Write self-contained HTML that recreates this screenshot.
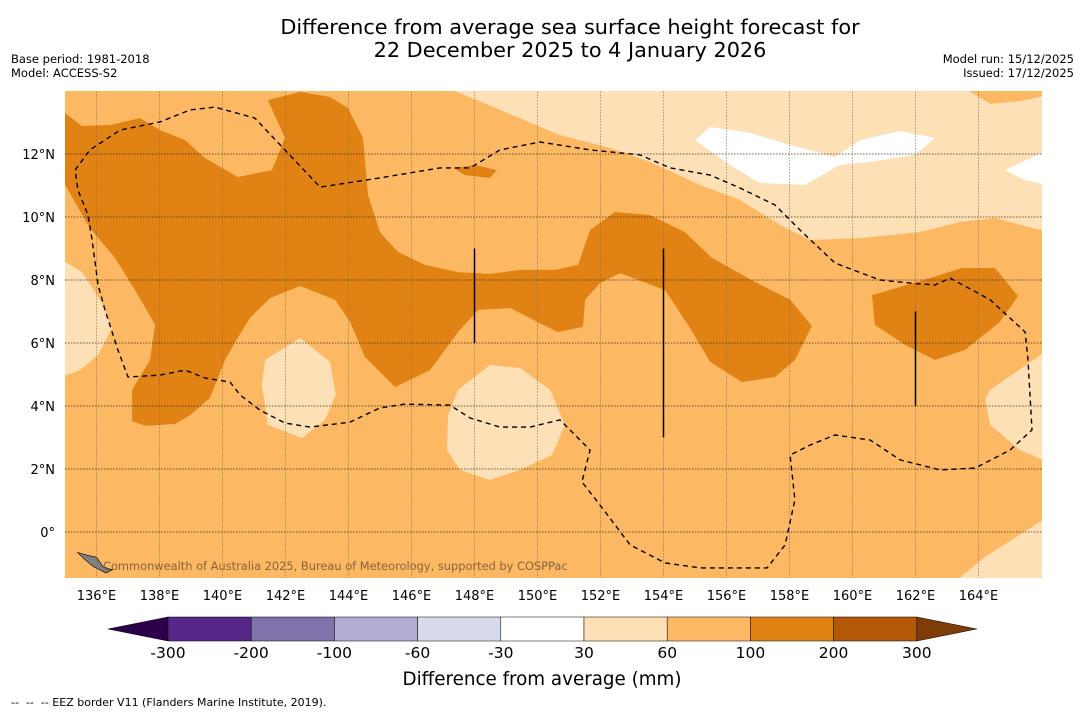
<!DOCTYPE html>
<html><head><meta charset="utf-8">
<style>
html,body{margin:0;padding:0;background:#fff;}
svg{display:block;font-family:"DejaVu Sans","Liberation Sans",sans-serif;}
</style></head>
<body>
<svg id="chart" width="1085" height="713" viewBox="0 0 1085 713" xmlns="http://www.w3.org/2000/svg">
<text x="570" y="34" font-size="20.8" text-anchor="middle" fill="#000">Difference from average sea surface height forecast for</text>
<text x="570" y="57" font-size="20.8" text-anchor="middle" fill="#000">22 December 2025 to 4 January 2026</text>
<text x="11" y="63" font-size="11.5">Base period: 1981-2018</text>
<text x="11" y="77" font-size="11.5">Model: ACCESS-S2</text>
<text x="1074" y="63" font-size="11.5" text-anchor="end">Model run: 15/12/2025</text>
<text x="1074" y="77" font-size="11.5" text-anchor="end">Issued: 17/12/2025</text>
<defs><clipPath id="mapclip"><rect x="65" y="91" width="977" height="487"/></clipPath></defs>
<g id="map" clip-path="url(#mapclip)"></g>
<g id="axes"></g>
<g id="cbar"></g>
<text x="542" y="685" font-size="18.3" text-anchor="middle">Difference from average (mm)</text>
<text x="11" y="706" font-size="11" style="white-space:pre" xml:space="preserve">--  --  -- EEZ border V11 (Flanders Marine Institute, 2019).</text>
</svg>
<script>
const NS="http://www.w3.org/2000/svg";
const lonTicks=[136,138,140,142,144,146,148,150,152,154,156,158,160,162,164];
const latTicks=[0,2,4,6,8,10,12];
const cbarBounds=[-300,-200,-100,-60,-30,30,60,100,200,300];
const cbarColors=["#542788","#8073ac","#b2abd2","#d8daeb","#ffffff","#fee0b6","#fdb863","#e08214","#b35806"];
const cbarUnder="#2d004b", cbarOver="#7f3b08";
// contour polygons in [lon,lat]
const darkMain=[[135,13.3],[135.54,12.89],[136.43,12.92],[137.38,13.14],[138.02,12.76],[138.81,12.44],[139.44,11.87],[140.49,11.27],[141.57,11.49],[141.98,12.51],[141.44,13.71],[142.46,13.97],[143.41,13.81],[143.98,13.46],[144.46,12.51],[144.62,10.7],[145,9.52],[145.57,8.89],[146.43,8.48],[147.48,8.25],[148.49,8.19],[149.44,8.32],[150.56,8.32],[151.29,8.48],[151.67,9.59],[152.46,10.16],[153.57,10.06],[154.68,9.52],[155.54,8.7],[156.9,7.94],[158.02,7.37],[158.71,6.54],[158.17,5.46],[157.54,4.92],[156.49,4.76],[155.48,5.4],[154.84,6.48],[154.05,7.68],[152.62,8.22],[151.98,7.9],[151.51,7.37],[151.44,6.51],[150.65,6.35],[150.08,6.63],[149.13,7.11],[148.11,7.05],[147.48,6.35],[146.59,5.14],[145.48,4.6],[144.52,5.56],[144.05,6.67],[143.57,7.37],[142.46,7.81],[141.51,7.43],[140.87,6.79],[140.4,6.03],[140.08,5.46],[139.6,4.25],[138.97,3.71],[138.49,3.43],[137.54,3.37],[137.13,3.52],[137.13,4.51],[137.7,5.46],[137.86,6.57],[137.32,7.52],[136.59,8.7],[135.79,9.65],[135,11.02]];
const darkBlob=[[147.32,11.56],[148.02,11.65],[148.71,11.49],[148.49,11.24],[147.7,11.33]];
const darkEast=[[160.62,7.52],[162.46,8.06],[163.48,8.38],[164.52,8.38],[165.25,7.49],[164.68,6.67],[163.57,5.78],[162.62,5.46],[161.67,5.94],[160.71,6.57]];
const lightTop=[[146.9,14.2],[148.81,13.4],[150.71,12.6],[152.3,12.19],[153.57,11.75],[155.16,11.02],[156.43,10.54],[157.7,9.75],[158.65,9.27],[160.24,9.33],[162.14,9.52],[163.41,9.84],[164.52,9.97],[166.2,9.52],[166.2,13.87],[165.32,13.68],[164.37,13.59],[163.35,14.2]];
const lightLeft=[[134.8,8.7],[135.54,8.25],[136.11,7.37],[136.49,6.48],[136.05,5.62],[135.48,5.14],[134.8,4.89]];
const lightC1=[[141.35,5.46],[142.46,6.16],[143.41,5.4],[143.6,4.35],[143.25,3.56],[142.52,2.98],[141.44,3.4],[141.25,4.67]];
const lightC2=[[147.48,4.51],[148.49,5.3],[149.44,5.21],[150.4,4.51],[150.87,3.4],[150.46,2.44],[149.44,1.97],[148.49,1.65],[147.54,1.97],[147.13,2.6],[147.16,3.71]];
const lightRight=[[164.37,4.51],[166.2,5.78],[166.2,2.22],[165.32,2.6],[164.37,3.4],[164.21,4.19]];
const lightBR=[[163.1,-1.7],[164.21,-0.79],[166.2,0.48],[166.2,-1.7]];
const whiteTop=[[155,12.44],[155.48,12.86],[156.75,12.67],[158.02,12.29],[159.44,11.9],[160.24,12.44],[161.51,12.73],[162.62,12.51],[161.98,11.97],[160.56,11.75],[159.6,11.65],[158.49,11.02],[157.06,11.08],[156.11,11.65]];
const whiteRight=[[164.84,11.49],[166.2,12.13],[166.2,11.02],[165.48,11.17]];
const eezLine=[[135.32,11.49],[135.79,12.13],[136.75,12.76],[138.02,13.02],[138.97,13.4],[139.76,13.49],[141.03,13.14],[141.83,12.29],[143.1,10.95],[145,11.24],[146.9,11.56],[147.86,11.56],[148.81,12.13],[150.08,12.38],[151.67,12.13],[153.25,11.97],[154.21,11.56],[155.48,11.33],[156.43,10.92],[157.54,10.38],[158.33,9.59],[159.44,8.54],[160.87,8.0],[161.83,7.9],[162.62,7.84],[163.1,8.06],[164.37,7.37],[165.48,6.35],[165.57,5.46],[165.7,3.24],[165,2.6],[163.89,2.03],[162.78,1.97],[161.51,2.29],[160.56,2.92],[159.44,3.08],[158.65,2.76],[158.02,2.44],[158.17,1.02],[157.86,-0.41],[157.29,-1.14],[155.16,-1.14],[154.05,-0.98],[152.94,-0.41],[151.98,0.86],[151.41,1.59],[151.67,2.6],[151.03,3.24],[150.71,3.56],[149.76,3.33],[148.81,3.33],[147.86,3.62],[147.22,4.03],[145.79,4.06],[145,3.94],[144.05,3.49],[142.78,3.33],[141.98,3.46],[141.19,3.87],[140.56,4.35],[140.24,4.76],[139.44,4.89],[138.81,5.14],[138.02,4.98],[137,4.92],[136.68,5.78],[136.27,7.05],[136.05,7.84],[135.86,9.27],[135.73,10.06],[135.41,10.86],[135.32,11.49]];
const meridianSegs=[[148,9,6],[154,9,3],[162,7,4]];
const island1=[[135.4,-0.65],[135.75,-0.75],[136.0,-0.8],[136.2,-1.1],[136.5,-1.2],[136.3,-1.3],[135.9,-1.1],[135.6,-0.85]];

const X=lon=>65+(lon-135)*31.5;
const Y=lat=>91+(14-lat)*31.5;
const map=document.getElementById('map'), axes=document.getElementById('axes'), cb=document.getElementById('cbar');
function mk(tag,attrs,parent){const e=document.createElementNS(NS,tag);for(const k in attrs)e.setAttribute(k,attrs[k]);parent.appendChild(e);return e;}
const pts=arr=>arr.map(p=>X(p[0]).toFixed(1)+','+Y(p[1]).toFixed(1)).join(' ');

let bg=mk('rect',{x:65,y:91,width:977,height:487,fill:"#fdb863"},map);


const layers=[[darkMain,"#e08214","contour-100-200-main"],[darkBlob,"#e08214","contour-100-200-small"],[darkEast,"#e08214","contour-100-200-east"],[lightTop,"#fee0b6","contour-30-60-north"],[lightLeft,"#fee0b6","contour-30-60-west"],[lightC1,"#fee0b6","contour-30-60-centre-west"],[lightC2,"#fee0b6","contour-30-60-centre"],[lightRight,"#fee0b6","contour-30-60-east"],[lightBR,"#fee0b6","contour-30-60-southeast"],[whiteTop,"#ffffff","contour-neutral-north"],[whiteRight,"#ffffff","contour-neutral-east"]];
for(const [d,c,n] of layers){
  const p=mk('polygon',{points:pts(d),fill:c},map);
  
  
}
const isl=mk('polygon',{points:pts(island1),fill:"#808080",stroke:"#000","stroke-width":0.6},map);


for(const lo of lonTicks){
  const l=mk('line',{x1:X(lo),x2:X(lo),y1:91,y2:578,stroke:"#8a6a4a","stroke-width":0.7,"stroke-opacity":0.7,"stroke-dasharray":"2,1"},map);
  
  
}
for(const la of latTicks){
  const l=mk('line',{x1:65,x2:1042,y1:Y(la),y2:Y(la),stroke:"#3a2a1a","stroke-width":0.7,"stroke-dasharray":"1.5,1.5"},map);
  
  
}
for(const s of meridianSegs){
  const l=mk('line',{x1:X(s[0]),x2:X(s[0]),y1:Y(s[1]),y2:Y(s[2]),stroke:"#000","stroke-width":1.5},map);
  
  
}
const eez=mk('polyline',{points:pts(eezLine),fill:"none",stroke:"#000","stroke-width":1.4,"stroke-dasharray":"5,4"},map);


const cr=mk('text',{x:103,y:570,"font-size":11.4,fill:"#7a5a3a","fill-opacity":0.9},map);
cr.textContent="Commonwealth of Australia 2025, Bureau of Meteorology, supported by COSPPac";



for(const lo of lonTicks){
  const t=mk('text',{x:X(lo),y:600,"font-size":13,"text-anchor":"middle"},axes);
  t.textContent=lo+"°E";
  
  
}
for(const la of latTicks){
  const t=mk('text',{x:55,y:Y(la)+5,"font-size":13,"text-anchor":"end"},axes);
  t.textContent=la===0?"0°":la+"°N";
  
  
}

const cbX0=168,cbW=83.2,cbY=617,cbH=24;
const cx=i=>cbX0+i*cbW;
const n=cbarColors.length;
let tl=mk('polygon',{points:`${cx(0)},${cbY} ${cx(0)-60},${cbY+cbH/2} ${cx(0)},${cbY+cbH}`,fill:cbarUnder,stroke:"#000","stroke-width":0.5},cb);


let tr=mk('polygon',{points:`${cx(n)},${cbY} ${cx(n)+60},${cbY+cbH/2} ${cx(n)},${cbY+cbH}`,fill:cbarOver,stroke:"#000","stroke-width":0.5},cb);


cbarColors.forEach((c,i)=>{
  const r=mk('rect',{x:cx(i),y:cbY,width:cbW,height:cbH,fill:c,stroke:"#000","stroke-width":0.5},cb);
  
  
});
cbarBounds.forEach((b,i)=>{
  const t=mk('text',{x:cx(i),y:658,"font-size":15.5,"text-anchor":"middle"},cb);
  t.textContent=b;
  
  
});
</script>
</body></html>
